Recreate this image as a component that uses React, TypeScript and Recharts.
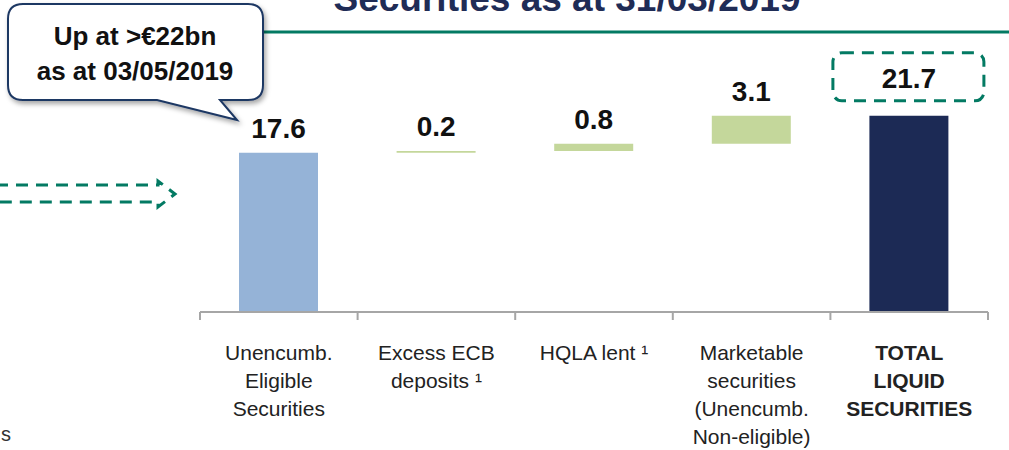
import React from 'react';
import { BarChart, Bar, XAxis, YAxis, Cell, LabelList } from 'recharts';

const categories = [
  'Unencumb. Eligible Securities',
  'Excess ECB deposits',
  'HQLA lent',
  'Marketable securities',
  'TOTAL LIQUID SECURITIES',
];
const categoryLines = [
  ['Unencumb.', 'Eligible', 'Securities'],
  ['Excess ECB', 'deposits \u00b9'],
  ['HQLA lent \u00b9'],
  ['Marketable', 'securities', '(Unencumb.', 'Non-eligible)'],
  ['TOTAL', 'LIQUID', 'SECURITIES'],
];
const offsets = [0, 17.6, 17.8, 18.6, 0];
const amounts = [17.6, 0.2, 0.8, 3.1, 21.7];
const valueLabels = ['17.6', '0.2', '0.8', '3.1', '21.7'];
const barColors = ['#95B3D7', '#C4D79B', '#C4D79B', '#C4D79B', '#1C2A55'];

const data = categories.map((name, i) => ({ name, base: offsets[i], value: amounts[i] }));

const FONT = '"Liberation Sans", Arial, sans-serif';
const GREEN = '#037A63';
const NAVY = '#1F2C56';
const AXIS_GREY = '#A6A6A6';
const TICK_LEN = 8;

// category labels plus the tick marks between categories
function CategoryTick(props: any) {
  const { x, y, payload, index, width, visibleTicksCount } = props;
  const lines = categoryLines[index] ?? [payload.value];
  const bold = index === categories.length - 1;
  const step = width / visibleTicksCount;
  const edges = [x - step / 2];
  if (index === visibleTicksCount - 1) edges.push(x + step / 2);
  return (
    <g>
      {edges.map((ex, i) => (
        <line key={'t' + i} x1={ex} x2={ex} y1={y - TICK_LEN} y2={y} stroke={AXIS_GREY} strokeWidth={2} />
      ))}
      {lines.map((line, i) => (
        <text
          key={i}
          x={x}
          y={y + 40 + i * 28}
          textAnchor="middle"
          fontFamily={FONT}
          fontSize={21}
          fontWeight={bold ? 700 : 400}
          fill="#222"
        >
          {line}
        </text>
      ))}
    </g>
  );
}

function ValueLabel(props: any) {
  const { x, y, width, index } = props;
  const isTotal = index === categories.length - 1;
  const cx = x + width / 2;
  const base = y - (isTotal ? 28 : 15);
  return (
    <g>
      {isTotal && (
        <rect
          x={cx - 76}
          y={base - 35}
          width={151}
          height={48}
          rx={9}
          fill="none"
          stroke={GREEN}
          strokeWidth={3}
          strokeDasharray="12 8"
        />
      )}
      <text x={cx} y={base} textAnchor="middle" fontFamily={FONT} fontSize={28} fontWeight={700} fill="#111">
        {valueLabels[index]}
      </text>
    </g>
  );
}

export default function App() {
  return (
    <div style={{ position: 'absolute', left: 0, top: 0, width: 1009, height: 450, background: '#fff', fontFamily: FONT }}>
      <BarChart width={1009} height={450} data={data} margin={{ top: 95, right: 21, left: 200, bottom: 0 }} barSize={79}>
        <XAxis
          dataKey="name"
          axisLine={{ stroke: AXIS_GREY, strokeWidth: 2 }}
          tickLine={false}
          tickSize={TICK_LEN}
          tickMargin={0}
          interval={0}
          height={138}
          tick={<CategoryTick />}
        />
        <YAxis hide domain={[0, 24]} />
        <Bar dataKey="base" stackId="w" fill="transparent" isAnimationActive={false} />
        <Bar dataKey="value" stackId="w" isAnimationActive={false}>
          {data.map((d, i) => (
            <Cell key={d.name} fill={barColors[i]} />
          ))}
          <LabelList dataKey="value" content={<ValueLabel />} />
        </Bar>
      </BarChart>

      <svg width={1009} height={450} style={{ position: 'absolute', left: 0, top: 0, pointerEvents: 'none' }}>
        <defs>
          <filter id="shadow" x="-10%" y="-10%" width="130%" height="140%">
            <feDropShadow dx="2" dy="3" stdDeviation="2.5" floodColor="#000" floodOpacity="0.35" />
          </filter>
        </defs>
        <text x={567} y={11} textAnchor="middle" fontFamily={FONT} fontSize={37} fontWeight={700} fill={NAVY}>
          Securities as at 31/03/2019
        </text>
        <line x1={263} y1={32} x2={1009} y2={32} stroke={GREEN} strokeWidth={3} />

        <path
          d="M23,4 H248 Q263,4 263,19 V85 Q263,100 248,100 H220 L237,120 L157,100 H23 Q8,100 8,85 V19 Q8,4 23,4 Z"
          fill="#fff"
          stroke="#1F3864"
          strokeWidth={2}
          filter="url(#shadow)"
        />
        <text x={135} y={45} textAnchor="middle" fontFamily={FONT} fontSize={26} fontWeight={700} fill="#111">
          Up at &gt;€22bn
        </text>
        <text x={135} y={80} textAnchor="middle" fontFamily={FONT} fontSize={26} fontWeight={700} fill="#111">
          as at 03/05/2019
        </text>

        <path
          d="M-4,185 H158 V181 L175,194 L158,207 V202 H-4"
          fill="none"
          stroke={GREEN}
          strokeWidth={3}
          strokeDasharray="12 8"
        />

        <text x={1} y={441} fontFamily={FONT} fontSize={20} fill="#333">
          s
        </text>
      </svg>
    </div>
  );
}
